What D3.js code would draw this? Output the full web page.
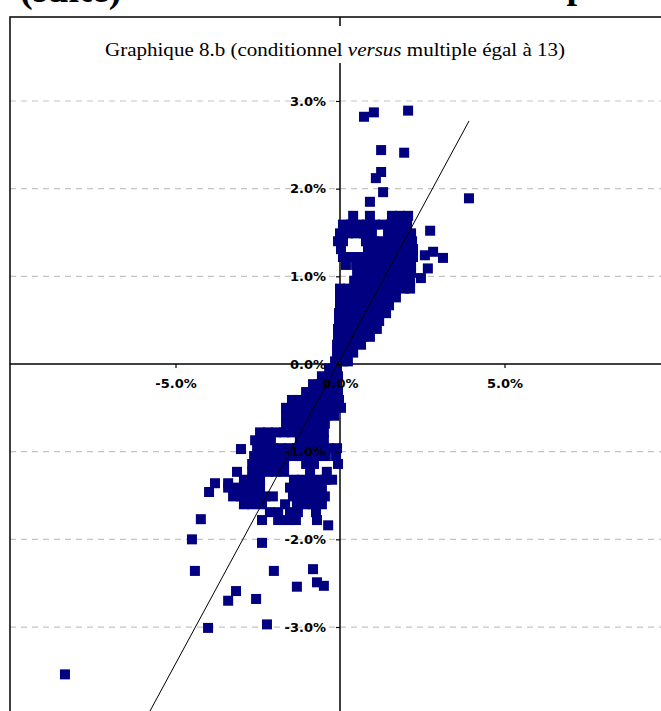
<!DOCTYPE html>
<html>
<head>
<meta charset="utf-8">
<script src="https://cdn.jsdelivr.net/npm/d3@7"></script>
<style>
  body { margin: 0; background: #fff; }
  svg { display: block; }
</style>
</head>
<body>
<svg id="chart"></svg>
<script>
// axis settings (values in %)
const xDomain = [-10, 10];
const yDomain = [-4, 4];
const xTicks = [-5, 0, 5];
const yTicks = [-3, -2, -1, 0, 1, 2, 3];

// fitted line (slope / intercept)
const fitSlope = 0.694;
const fitIntercept = 0.05;

// points: [conditionnel, multiple] in %
const upperOutliers = [
  [0.73, 2.82], [1.03, 2.87], [2.07, 2.89], [1.25, 2.44], [1.95, 2.41],
  [1.25, 2.19], [1.09, 2.12], [1.31, 1.96], [0.91, 1.85], [3.92, 1.89],
  [2.74, 1.52], [2.58, 1.24], [2.83, 1.28], [3.13, 1.21], [2.67, 1.09],
  [2.46, 0.98]
];

const upperCluster = [
  [0.40, 1.69], [0.91, 1.69], [1.58, 1.69], [1.82, 1.69], [2.07, 1.69],
  [0.09, 1.59], [0.33, 1.59], [0.58, 1.59], [0.82, 1.59], [1.06, 1.59], [1.31, 1.59], [1.55, 1.59], [1.79, 1.59], [2.04, 1.59],
  [0.00, 1.49], [0.24, 1.49], [0.49, 1.49], [0.73, 1.49], [0.97, 1.49], [1.46, 1.49], [1.70, 1.49], [1.95, 1.49], [2.16, 1.49],
  [-0.06, 1.40], [0.09, 1.40], [0.79, 1.40], [1.03, 1.40], [1.28, 1.40], [1.52, 1.40], [1.76, 1.40], [2.01, 1.40], [2.19, 1.40],
  [0.03, 1.31], [0.85, 1.31], [1.09, 1.31], [1.34, 1.31], [1.58, 1.31], [1.82, 1.31], [2.07, 1.31], [2.22, 1.31],
  [0.09, 1.22], [0.33, 1.22], [0.58, 1.22], [0.82, 1.22], [1.06, 1.22], [1.31, 1.22], [1.55, 1.22], [1.79, 1.22], [2.04, 1.22], [2.22, 1.22],
  [0.18, 1.13], [0.49, 1.13], [0.73, 1.13], [0.97, 1.13], [1.22, 1.13], [1.46, 1.13], [1.70, 1.13], [1.95, 1.13], [2.16, 1.13],
  [0.52, 1.04], [0.76, 1.04], [1.00, 1.04], [1.25, 1.04], [1.49, 1.04], [1.73, 1.04], [1.98, 1.04], [2.16, 1.04],
  [0.43, 0.95], [0.67, 0.95], [0.91, 0.95], [1.16, 0.95], [1.40, 0.95], [1.64, 0.95], [1.88, 0.95], [2.13, 0.95],
  [0.00, 0.86], [0.24, 0.86], [0.49, 0.86], [0.73, 0.86], [0.97, 0.86], [1.22, 0.86], [1.46, 0.86], [1.70, 0.86], [1.95, 0.86], [2.13, 0.86],
  [0.00, 0.76], [0.24, 0.76], [0.49, 0.76], [0.73, 0.76], [0.97, 0.76], [1.22, 0.76], [1.46, 0.76], [1.70, 0.76],
  [0.00, 0.67], [0.24, 0.67], [0.49, 0.67], [0.73, 0.67], [0.97, 0.67], [1.22, 0.67], [1.49, 0.67],
  [-0.03, 0.58], [0.21, 0.58], [0.46, 0.58], [0.70, 0.58], [0.94, 0.58], [1.19, 0.58], [1.40, 0.58],
  [-0.03, 0.49], [0.21, 0.49], [0.46, 0.49], [0.70, 0.49], [0.94, 0.49], [1.19, 0.49],
  [-0.06, 0.40], [0.18, 0.40], [0.43, 0.40], [0.67, 0.40], [0.91, 0.40], [1.12, 0.40],
  [-0.06, 0.31], [0.18, 0.31], [0.43, 0.31], [0.67, 0.31], [0.91, 0.31],
  [-0.09, 0.22], [0.15, 0.22], [0.40, 0.22], [0.64, 0.22],
  [-0.09, 0.13], [0.15, 0.13], [0.40, 0.13],
  [-0.15, 0.03], [0.09, 0.03], [0.24, 0.03]
];

const lowerCluster = [
  [-0.33, -0.05], [-0.09, -0.05],
  [-0.55, -0.14], [-0.30, -0.14], [-0.06, -0.14],
  [-0.82, -0.23], [-0.58, -0.23], [-0.33, -0.23], [-0.09, -0.23],
  [-1.03, -0.32], [-0.79, -0.32], [-0.55, -0.32], [-0.30, -0.32], [-0.06, -0.32],
  [-1.46, -0.41], [-1.22, -0.41], [-0.97, -0.41], [-0.73, -0.41], [-0.49, -0.41], [-0.24, -0.41], [-0.03, -0.41],
  [-1.64, -0.50], [-1.40, -0.50], [-1.16, -0.50], [-0.91, -0.50], [-0.67, -0.50], [-0.43, -0.50], [-0.18, -0.50], [0.03, -0.50],
  [-1.64, -0.59], [-1.40, -0.59], [-1.16, -0.59], [-0.91, -0.59], [-0.67, -0.59], [-0.43, -0.59], [-0.18, -0.59],
  [-1.64, -0.68], [-1.40, -0.68], [-1.16, -0.68], [-0.91, -0.68], [-0.67, -0.68], [-0.46, -0.68],
  [-2.43, -0.78], [-2.19, -0.78], [-1.95, -0.78], [-1.70, -0.78], [-1.46, -0.78], [-1.22, -0.78], [-0.97, -0.78], [-0.73, -0.78], [-0.49, -0.78],
  [-2.58, -0.87], [-2.34, -0.87], [-2.10, -0.87], [-1.22, -0.87], [-0.97, -0.87], [-0.73, -0.87], [-0.49, -0.87],
  [-3.01, -0.97],
  [-2.52, -0.96], [-2.28, -0.96], [-2.04, -0.96], [-1.79, -0.96], [-1.55, -0.96], [-1.31, -0.96], [-1.06, -0.96], [-0.82, -0.96], [-0.58, -0.96], [-0.33, -0.96], [-0.09, -0.96],
  [-2.61, -1.05], [-2.37, -1.05], [-2.13, -1.05], [-1.88, -1.05], [-1.64, -1.05], [-1.40, -1.05], [-1.16, -1.05], [-0.91, -1.05], [-0.67, -1.05], [-0.43, -1.05], [-0.12, -1.05],
  [-2.67, -1.14], [-2.43, -1.14], [-2.19, -1.14], [-1.95, -1.14], [-1.70, -1.14], [-1.03, -1.14], [-0.79, -1.14], [-0.06, -1.14],
  [-3.13, -1.23], [-2.67, -1.23], [-2.43, -1.23], [-2.19, -1.23], [-1.95, -1.23], [-1.70, -1.23], [-0.91, -1.23], [-0.40, -1.23],
  [-2.92, -1.32], [-2.67, -1.32], [-2.43, -1.32], [-1.40, -1.32], [-1.16, -1.32], [-0.91, -1.32], [-0.67, -1.32], [-0.43, -1.32], [-0.24, -1.32],
  [-3.80, -1.36], [-3.40, -1.36], [-3.98, -1.46],
  [-3.40, -1.41], [-3.16, -1.41], [-2.92, -1.41], [-2.67, -1.41], [-2.43, -1.41], [-1.52, -1.41], [-1.28, -1.41], [-1.03, -1.41], [-0.79, -1.41], [-0.55, -1.41],
  [-3.25, -1.51], [-3.01, -1.51], [-2.77, -1.51], [-2.52, -1.51], [-2.28, -1.51], [-2.04, -1.51], [-1.43, -1.51], [-1.19, -1.51], [-0.94, -1.51], [-0.70, -1.51], [-0.46, -1.51],
  [-2.92, -1.60], [-2.67, -1.60], [-2.37, -1.60], [-1.67, -1.60], [-1.31, -1.60], [-1.06, -1.60], [-0.82, -1.60], [-0.55, -1.60],
  [-2.13, -1.69], [-1.88, -1.69], [-1.52, -1.69], [-1.28, -1.69], [-0.73, -1.69],
  [-2.37, -1.78], [-1.88, -1.78], [-1.58, -1.78], [-1.34, -1.78], [-0.70, -1.78],
  [-0.36, -1.84]
];

const lowerOutliers = [
  [-4.23, -1.77], [-4.50, -2.00], [-2.37, -2.04], [-4.41, -2.36], [-2.01, -2.36],
  [-0.82, -2.34], [-0.70, -2.49], [-0.49, -2.53], [-1.31, -2.54], [-3.16, -2.59],
  [-3.40, -2.70], [-2.55, -2.68], [-4.01, -3.01], [-2.22, -2.97], [-8.36, -3.54]
];

const points = [...upperOutliers, ...upperCluster, ...lowerCluster, ...lowerOutliers];

const width = 661;
const height = 711;
const frame = { left: 10, top: 17 };
const markerSize = 10;
const fmt = d => `${d.toFixed(1)}%`;

const svg = d3.select('#chart').attr('width', width).attr('height', height);

const xScale = d3.scaleLinear().domain(xDomain).range([11, 669]);
const yScale = d3.scaleLinear().domain(yDomain).range([714.7, 13.3]);

// page heading above the chart, cut off by the crop: only its lowest part shows
svg.append('text')
  .attr('x', 20)
  .attr('y', 2)
  .attr('font-family', 'Liberation Serif')
  .attr('font-weight', 'bold')
  .attr('font-size', 38)
  .text('(suite)');
svg.append('text')
  .attr('x', 480)
  .attr('y', -2)
  .attr('font-family', 'Liberation Serif')
  .attr('font-weight', 'bold')
  .attr('font-size', 38)
  .text('multiples');

svg.append('defs').append('clipPath').attr('id', 'plot-clip')
  .append('rect')
  .attr('x', frame.left)
  .attr('y', frame.top)
  .attr('width', width - frame.left + 10)
  .attr('height', height - frame.top + 10);

const plot = svg.append('g').attr('clip-path', 'url(#plot-clip)');

// dashed gridlines
plot.append('g')
  .selectAll('line')
  .data(yTicks.filter(d => d !== 0))
  .join('line')
  .attr('x1', frame.left)
  .attr('x2', width)
  .attr('y1', d => yScale(d))
  .attr('y2', d => yScale(d))
  .attr('stroke', '#c4c4c4')
  .attr('stroke-width', 1.2)
  .attr('stroke-dasharray', '6,5');

// axis lines through the origin
plot.append('line')
  .attr('x1', xScale(0)).attr('x2', xScale(0))
  .attr('y1', frame.top).attr('y2', height)
  .attr('stroke', '#000').attr('stroke-width', 1.5);
plot.append('line')
  .attr('x1', frame.left).attr('x2', width)
  .attr('y1', yScale(0)).attr('y2', yScale(0))
  .attr('stroke', '#000').attr('stroke-width', 1.5);

// markers
plot.append('g')
  .selectAll('rect')
  .data(points)
  .join('rect')
  .attr('x', d => xScale(d[0]) - markerSize / 2)
  .attr('y', d => yScale(d[1]) - markerSize / 2)
  .attr('width', markerSize)
  .attr('height', markerSize)
  .attr('fill', '#000080');

// fitted line over the data range
const xExtent = d3.extent(points, d => d[0]);
const line = d3.line()
  .x(d => xScale(d))
  .y(d => yScale(fitIntercept + fitSlope * d));
plot.append('path')
  .datum(xExtent)
  .attr('d', line)
  .attr('fill', 'none')
  .attr('stroke', '#000')
  .attr('stroke-width', 1);

// ticks and labels
const axisY = d3.axisLeft(yScale).tickValues(yTicks).tickSize(4).tickPadding(10).tickFormat(fmt);
const axisX = d3.axisBottom(xScale).tickValues(xTicks).tickSize(4).tickPadding(11).tickFormat(fmt);

const gy = plot.append('g').attr('transform', `translate(${xScale(0)},0)`).call(axisY);
const gx = plot.append('g').attr('transform', `translate(0,${yScale(0)})`).call(axisX);
[gx, gy].forEach(g => {
  g.select('.domain').remove();
  g.selectAll('line').attr('stroke', '#000').attr('stroke-width', 1.2);
  g.selectAll('text')
    .attr('font-family', 'DejaVu Sans')
    .attr('font-weight', 'bold')
    .attr('font-size', 13)
    .attr('fill', '#000');
});

// frame
svg.append('rect')
  .attr('x', frame.left)
  .attr('y', frame.top)
  .attr('width', width)
  .attr('height', height)
  .attr('fill', 'none')
  .attr('stroke', '#000')
  .attr('stroke-width', 1.5);

// chart title on a white box
svg.append('rect')
  .attr('x', 100)
  .attr('y', 26)
  .attr('width', 472)
  .attr('height', 37)
  .attr('fill', '#fff');

const title = svg.append('text')
  .attr('x', 335)
  .attr('y', 56)
  .attr('text-anchor', 'middle')
  .attr('font-family', 'Liberation Serif')
  .attr('font-size', 19)
  .attr('textLength', 460)
  .attr('lengthAdjust', 'spacingAndGlyphs')
  .attr('fill', '#000');
title.append('tspan').text('Graphique 8.b (conditionnel ');
title.append('tspan').attr('font-style', 'italic').text('versus');
title.append('tspan').text(' multiple égal à 13)');
</script>
</body>
</html>
